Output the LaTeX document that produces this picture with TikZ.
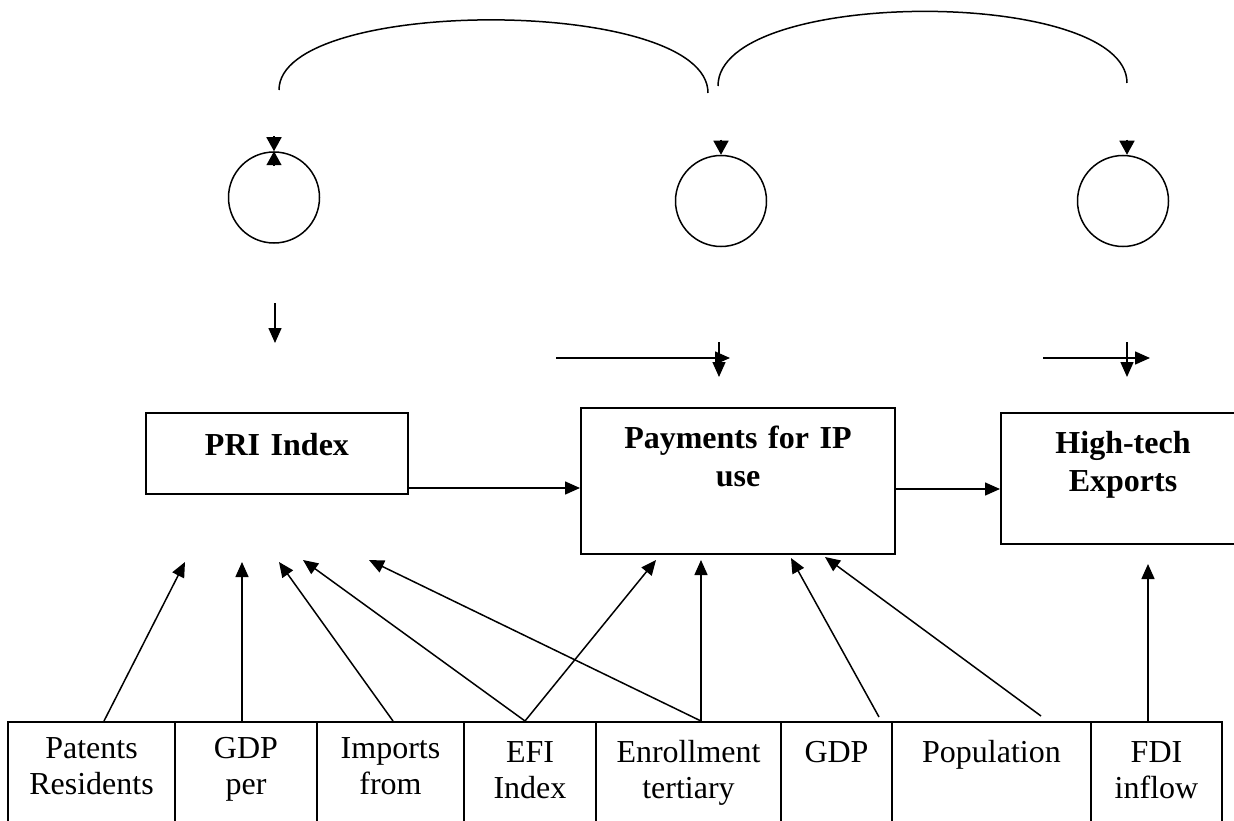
\documentclass[tikz,border=0pt]{standalone}
\usepackage{fontspec}
\setmainfont{Liberation Serif}
\usetikzlibrary{arrows.meta,positioning}

\begin{document}
\begin{tikzpicture}[x=1pt,y=-1pt,
    err/.style={circle,draw,line width=1.5pt,minimum size=91pt,inner sep=0pt},
    var/.style={draw,line width=2pt,align=center,inner sep=0pt,anchor=north,
        font=\fontsize{32}{38}\selectfont\bfseries},
    cell/.style={draw,line width=2pt,align=center,inner sep=0pt,anchor=north,
        font=\fontsize{32}{36.5}\selectfont},
    arr/.style={line width=1.5pt,-{Triangle[length=15pt,width=13pt]}},
    tip/.style={line width=1.5pt,-{Triangle[length=14pt,width=15pt]}}]
    \useasboundingbox (0,0) rectangle (1234,821);

    \node [err] (e1) at (274,197.5) {};
    \node [err] (e2) at (721,201) {};
    \node [err] (e3) at (1123,201) {};

    \coordinate (a1) at (279,90);
    \coordinate (a2) at (708,93);
    \coordinate (a3) at (718,86);
    \coordinate (a4) at (1127,83);
    \draw [line width=1.5pt] (a1) .. controls (279,-4) and (708,-4) .. (a2);
    \draw [line width=1.5pt] (a3) .. controls (718,-13) and (1127,-13) .. (a4);

    \draw [tip] ([yshift=15pt]e1.north) -- (e1.north);
    \draw [tip] ([yshift=-15pt]e1.north) -- (e1.north);
    \draw [tip] ([yshift=15pt]e2.north) -- (e2.north);
    \draw [tip] ([xshift=4pt,yshift=15pt]e3.north) -- ([xshift=4pt]e3.north);

    \node [var,text width=262pt,text height=42pt,text depth=39pt] (pri) at (277,412) {PRI Index};
    \node [var,text width=314pt,text height=40pt,text depth=106pt] (pay) at (738,407) {Payments for IP\\use};
    \node [var,text width=244pt,text height=40pt,text depth=91pt] (hte) at (1123,412) {High-tech\\Exports};

    \draw [arr] ([yshift=-34.5pt]pri.east) coordinate (pp) -- (pp -| pay.west);
    \draw [arr] ([yshift=-8pt]pay.east) coordinate (ph) -- (ph -| hte.west);

    \coordinate (d1) at (275,303);
    \coordinate (d1e) at (275,343);
    \coordinate (d2) at (719,342);
    \coordinate (d2e) at (719,377);
    \coordinate (d3) at (1127,342);
    \coordinate (d3e) at (1127,377);
    \coordinate (r2) at (556,358);
    \coordinate (r2e) at (730,358);
    \coordinate (r3) at (1043,358);
    \coordinate (r3e) at (1150,358);
    \draw [arr] (d1) -- (d1e);
    \draw [arr] (r2) -- (r2e);
    \draw [arr] (d2) -- (d2e);
    \draw [arr] (r3) -- (r3e);
    \draw [arr] (d3) -- (d3e);

    \node [cell,text width=167pt,text height=36pt,text depth=80pt] (pat) at (91.5,721) {Patents\\Residents};
    \node [cell,text width=142pt,text height=36pt,text depth=80pt] (gdpc) at (246,721) {GDP\\per};
    \node [cell,text width=147pt,text height=36pt,text depth=80pt] (imp) at (390.5,721) {Imports\\from};
    \node [cell,text width=132pt,text height=40pt,text depth=76pt] (efi) at (530,721) {EFI\\Index};
    \node [cell,text width=185pt,text height=40pt,text depth=76pt] (enr) at (688.5,721) {Enrollment\\tertiary};
    \node [cell,text width=111pt,text height=40pt,text depth=76pt] (gdp) at (836.5,721) {GDP};
    \node [cell,text width=199pt,text height=40pt,text depth=76pt] (pop) at (991.5,721) {Population};
    \node [cell,text width=131pt,text height=40pt,text depth=76pt] (fdi) at (1156.5,721) {FDI\\inflow};

    \coordinate (q1) at (185,562);
    \coordinate (q2) at (242,562);
    \coordinate (q3) at (279,562);
    \coordinate (q4) at (303,560);
    \coordinate (q5) at (369,560);
    \coordinate (q6) at (656,560);
    \coordinate (q7) at (701,560);
    \coordinate (q8) at (791,558);
    \coordinate (q9) at (825,557);
    \coordinate (q10) at (1148,564);
    \draw [arr] ([xshift=12.5pt]pat.north) -- (q1);
    \draw [arr] ([xshift=-4pt]gdpc.north) -- (q2);
    \draw [arr] ([xshift=2.5pt]imp.north) -- (q3);
    \draw [arr] ([xshift=-5pt]efi.north) -- (q4);
    \draw [arr] ([xshift=12.5pt]enr.north) -- (q5);
    \draw [arr] ([xshift=-5pt]efi.north) -- (q6);
    \draw [arr] ([xshift=12.5pt]enr.north) -- (q7);
    \draw [arr] ([xshift=42.5pt,yshift=4pt]gdp.north) -- (q8);
    \draw [arr] ([xshift=49.5pt,yshift=5pt]pop.north) -- (q9);
    \draw [arr] ([xshift=-8.5pt]fdi.north) -- (q10);
\end{tikzpicture}
\end{document}
